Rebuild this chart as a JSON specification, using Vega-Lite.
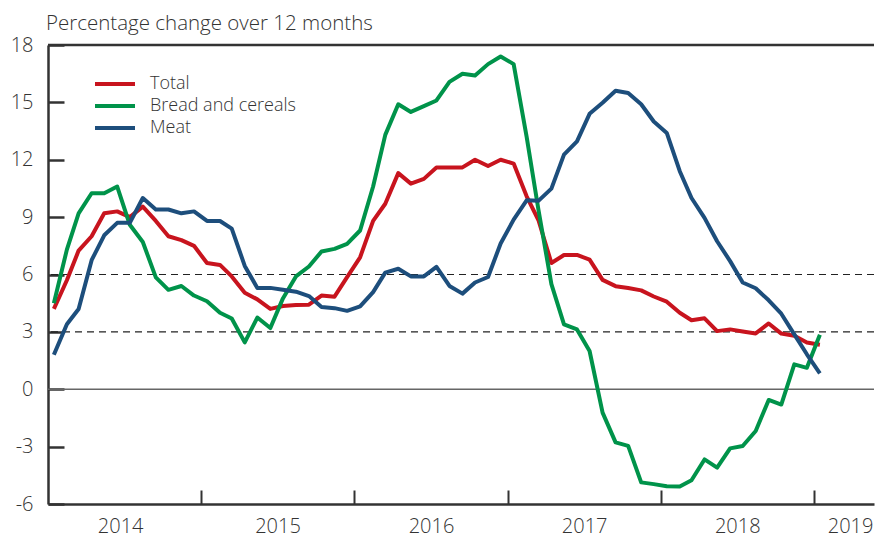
{
  "$schema": "https://vega.github.io/schema/vega-lite/v6.json",
  "width": 826,
  "height": 459,
  "autosize": {"type": "none"},
  "padding": {"left": 48, "top": 45, "right": 6, "bottom": 33},
  "config": {
    "view": {"stroke": null},
    "font": "Open Sans",
    "text": {"font": "Open Sans"}
  },
  "title": {
    "text": "Percentage change over 12 months",
    "anchor": "start",
    "frame": "group",
    "font": "Open Sans",
    "fontSize": 20.5,
    "fontWeight": 300,
    "color": "#333333",
    "offset": 1,
    "dx": -2
  },
  "datasets": {
    "series": [
      {"d": "2014-01-15", "Total": 4.2, "Bread and cereals": 4.5, "Meat": 1.8},
      {"d": "2014-02-15", "Total": 5.7, "Bread and cereals": 7.3, "Meat": 3.4},
      {"d": "2014-03-15", "Total": 7.25, "Bread and cereals": 9.2, "Meat": 4.2},
      {"d": "2014-04-15", "Total": 8.0, "Bread and cereals": 10.25, "Meat": 6.75},
      {"d": "2014-05-15", "Total": 9.2, "Bread and cereals": 10.25, "Meat": 8.05},
      {"d": "2014-06-15", "Total": 9.3, "Bread and cereals": 10.6, "Meat": 8.7},
      {"d": "2014-07-15", "Total": 9.0, "Bread and cereals": 8.6, "Meat": 8.7},
      {"d": "2014-08-15", "Total": 9.55, "Bread and cereals": 7.7, "Meat": 10.0},
      {"d": "2014-09-15", "Total": 8.8, "Bread and cereals": 5.85, "Meat": 9.4},
      {"d": "2014-10-15", "Total": 8.0, "Bread and cereals": 5.2, "Meat": 9.4},
      {"d": "2014-11-15", "Total": 7.8, "Bread and cereals": 5.4, "Meat": 9.2},
      {"d": "2014-12-15", "Total": 7.5, "Bread and cereals": 4.9, "Meat": 9.3},
      {"d": "2015-01-15", "Total": 6.6, "Bread and cereals": 4.6, "Meat": 8.8},
      {"d": "2015-02-15", "Total": 6.5, "Bread and cereals": 4.0, "Meat": 8.8},
      {"d": "2015-03-15", "Total": 5.9, "Bread and cereals": 3.7, "Meat": 8.4},
      {"d": "2015-04-15", "Total": 5.05, "Bread and cereals": 2.45, "Meat": 6.45},
      {"d": "2015-05-15", "Total": 4.7, "Bread and cereals": 3.75, "Meat": 5.3},
      {"d": "2015-06-15", "Total": 4.2, "Bread and cereals": 3.2, "Meat": 5.3},
      {"d": "2015-07-15", "Total": 4.35, "Bread and cereals": 4.75, "Meat": 5.2},
      {"d": "2015-08-15", "Total": 4.4, "Bread and cereals": 5.9, "Meat": 5.1},
      {"d": "2015-09-15", "Total": 4.42, "Bread and cereals": 6.42, "Meat": 4.87},
      {"d": "2015-10-15", "Total": 4.9, "Bread and cereals": 7.2, "Meat": 4.3},
      {"d": "2015-11-15", "Total": 4.84, "Bread and cereals": 7.34, "Meat": 4.24},
      {"d": "2015-12-15", "Total": 5.86, "Bread and cereals": 7.6, "Meat": 4.1},
      {"d": "2016-01-15", "Total": 6.9, "Bread and cereals": 8.3, "Meat": 4.33},
      {"d": "2016-02-15", "Total": 8.8, "Bread and cereals": 10.6, "Meat": 5.08},
      {"d": "2016-03-15", "Total": 9.7, "Bread and cereals": 13.3, "Meat": 6.1},
      {"d": "2016-04-15", "Total": 11.3, "Bread and cereals": 14.9, "Meat": 6.3},
      {"d": "2016-05-15", "Total": 10.75, "Bread and cereals": 14.5, "Meat": 5.9},
      {"d": "2016-06-15", "Total": 11.0, "Bread and cereals": 14.8, "Meat": 5.9},
      {"d": "2016-07-15", "Total": 11.6, "Bread and cereals": 15.1, "Meat": 6.4},
      {"d": "2016-08-15", "Total": 11.6, "Bread and cereals": 16.07, "Meat": 5.4},
      {"d": "2016-09-15", "Total": 11.6, "Bread and cereals": 16.5, "Meat": 5.0},
      {"d": "2016-10-15", "Total": 12.0, "Bread and cereals": 16.4, "Meat": 5.58},
      {"d": "2016-11-15", "Total": 11.67, "Bread and cereals": 17.0, "Meat": 5.87},
      {"d": "2016-12-15", "Total": 12.0, "Bread and cereals": 17.4, "Meat": 7.62},
      {"d": "2017-01-15", "Total": 11.8, "Bread and cereals": 17.0, "Meat": 8.87},
      {"d": "2017-02-15", "Total": 10.09, "Bread and cereals": 13.2, "Meat": 9.88},
      {"d": "2017-03-15", "Total": 8.85, "Bread and cereals": 9.4, "Meat": 9.85},
      {"d": "2017-04-15", "Total": 6.6, "Bread and cereals": 5.5, "Meat": 10.49},
      {"d": "2017-05-15", "Total": 7.02, "Bread and cereals": 3.39, "Meat": 12.27},
      {"d": "2017-06-15", "Total": 7.02, "Bread and cereals": 3.13, "Meat": 12.96},
      {"d": "2017-07-15", "Total": 6.78, "Bread and cereals": 2.0, "Meat": 14.4},
      {"d": "2017-08-15", "Total": 5.72, "Bread and cereals": -1.22, "Meat": 14.98},
      {"d": "2017-09-15", "Total": 5.39, "Bread and cereals": -2.78, "Meat": 15.61},
      {"d": "2017-10-15", "Total": 5.29, "Bread and cereals": -2.96, "Meat": 15.49},
      {"d": "2017-11-15", "Total": 5.17, "Bread and cereals": -4.87, "Meat": 14.9},
      {"d": "2017-12-15", "Total": 4.85, "Bread and cereals": -4.96, "Meat": 14.0},
      {"d": "2018-01-15", "Total": 4.58, "Bread and cereals": -5.07, "Meat": 13.4},
      {"d": "2018-02-15", "Total": 4.0, "Bread and cereals": -5.08, "Meat": 11.4},
      {"d": "2018-03-15", "Total": 3.61, "Bread and cereals": -4.76, "Meat": 10.0},
      {"d": "2018-04-15", "Total": 3.71, "Bread and cereals": -3.67, "Meat": 8.96},
      {"d": "2018-05-15", "Total": 3.04, "Bread and cereals": -4.1, "Meat": 7.74},
      {"d": "2018-06-15", "Total": 3.13, "Bread and cereals": -3.09, "Meat": 6.7},
      {"d": "2018-07-15", "Total": 3.02, "Bread and cereals": -2.97, "Meat": 5.58},
      {"d": "2018-08-15", "Total": 2.92, "Bread and cereals": -2.18, "Meat": 5.28},
      {"d": "2018-09-15", "Total": 3.44, "Bread and cereals": -0.56, "Meat": 4.65},
      {"d": "2018-10-15", "Total": 2.91, "Bread and cereals": -0.8, "Meat": 3.95},
      {"d": "2018-11-15", "Total": 2.8, "Bread and cereals": 1.3, "Meat": 2.87},
      {"d": "2018-12-15", "Total": 2.44, "Bread and cereals": 1.12, "Meat": 1.83},
      {"d": "2019-01-15", "Total": 2.33, "Bread and cereals": 2.85, "Meat": 0.83}
    ],
    "refs": [
      {"v": 3, "kind": "dash"},
      {"v": 6, "kind": "dash"},
      {"v": 0, "kind": "zero"},
      {"v": 18, "kind": "top"}
    ]
  },
  "encoding": {
    "y": {
      "field": "v",
      "type": "quantitative",
      "scale": {"domain": [-6, 18], "nice": false, "zero": false},
      "axis": {
        "values": [-6, -3, 0, 3, 6, 9, 12, 15, 18],
        "title": null,
        "grid": false,
        "domainColor": "#333333",
        "domainWidth": 2.5,
        "tickColor": "#333333",
        "tickWidth": 2.5,
        "tickSize": -16,
        "labelPadding": 31,
        "labelFont": "Open Sans",
        "labelFontWeight": 300,
        "labelFontSize": 20,
        "labelColor": "#333333",
        "labelExpr": "datum.value + ''"
      }
    }
  },
  "layer": [
    {
      "data": {"name": "refs"},
      "transform": [{"filter": "datum.kind == 'dash'"}],
      "mark": {"type": "rule", "color": "#222222", "strokeWidth": 1.2, "strokeDash": [7, 5]}
    },
    {
      "data": {"name": "refs"},
      "transform": [{"filter": "datum.kind == 'zero'"}],
      "mark": {"type": "rule", "color": "#666666", "strokeWidth": 1.6}
    },
    {
      "data": {"name": "refs"},
      "transform": [{"filter": "datum.kind == 'top'"}],
      "mark": {"type": "rule", "color": "#333333", "strokeWidth": 2.5}
    },
    {
      "data": {"name": "series"},
      "transform": [{"fold": ["Total", "Bread and cereals", "Meat"], "as": ["series", "v"]}],
      "mark": {"type": "line", "strokeWidth": 4, "strokeJoin": "round"},
      "encoding": {
        "x": {
          "field": "d",
          "type": "temporal",
          "scale": {
            "type": "utc",
            "domain": [
              {"year": 2014, "month": 1, "date": 1, "utc": true},
              {"year": 2019, "month": 5, "date": 24, "utc": true}
            ]
          },
          "axis": {
            "title": null,
            "grid": false,
            "values": [
              {"year": 2014, "month": 6, "date": 22, "utc": true},
              {"year": 2015, "month": 1, "date": 1, "utc": true},
              {"year": 2015, "month": 7, "date": 2, "utc": true},
              {"year": 2016, "month": 1, "date": 1, "utc": true},
              {"year": 2016, "month": 7, "date": 2, "utc": true},
              {"year": 2017, "month": 1, "date": 1, "utc": true},
              {"year": 2017, "month": 7, "date": 2, "utc": true},
              {"year": 2018, "month": 1, "date": 1, "utc": true},
              {"year": 2018, "month": 7, "date": 2, "utc": true},
              {"year": 2019, "month": 1, "date": 1, "utc": true},
              {"year": 2019, "month": 3, "date": 28, "utc": true}
            ],
            "domainColor": "#333333",
            "domainWidth": 2.5,
            "tickColor": "#333333",
            "tickWidth": 2,
            "tickSize": -14,
            "tickOpacity": {
              "condition": {"test": "utcmonth(datum.value) == 0 && utcdate(datum.value) == 1", "value": 1},
              "value": 0
            },
            "labelExpr": "utcmonth(datum.value) == 0 && utcdate(datum.value) == 1 ? '' : utcFormat(datum.value, '%Y')",
            "labelPadding": 26,
            "labelFlush": false,
            "labelOverlap": false,
            "labelFont": "Open Sans",
            "labelFontWeight": 300,
            "labelFontSize": 20,
            "labelColor": "#333333"
          }
        },
        "color": {
          "field": "series",
          "type": "nominal",
          "sort": ["Total", "Bread and cereals", "Meat"],
          "scale": {
            "domain": ["Total", "Bread and cereals", "Meat"],
            "range": ["#c8141e", "#00934a", "#1d4e7c"]
          },
          "legend": {
            "title": null,
            "orient": "none",
            "legendX": 58,
            "legendY": 30,
            "padding": 0,
            "symbolType": "M-4,0H4",
            "symbolSize": 100,
            "symbolStrokeWidth": 4,
            "labelFont": "Open Sans",
            "labelFontWeight": 300,
            "labelFontSize": 18,
            "labelColor": "#333333",
            "labelOffset": 26,
            "rowPadding": 4
          }
        }
      }
    }
  ]
}
